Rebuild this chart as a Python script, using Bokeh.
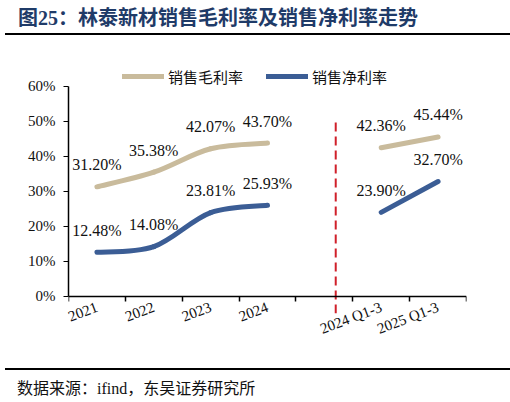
from bokeh.plotting import figure
from bokeh.embed import file_html
from bokeh.resources import INLINE
from bokeh.layouts import column
from bokeh.models import (
    ColumnDataSource, Range1d, FixedTicker, PrintfTickFormatter, LinearAxis,
    Legend, LegendItem, Div,
)

# data
categories = ["2021", "2022", "2023", "2024", "", "2024 Q1-3", "2025 Q1-3"]
gross_year = [31.20, 35.38, 42.07, 43.70]
net_year = [12.48, 14.08, 23.81, 25.93]
gross_q = [42.36, 45.44]
net_q = [23.90, 32.70]
yticks = [0, 10, 20, 30, 40, 50, 60]

GOLD = "#C9BB9C"
BLUE = "#3B5D95"
SERIF = "Liberation Serif"
CJK = "Noto Sans CJK SC"
MIXED = "'Liberation Serif', 'Noto Sans CJK SC'"

x_year = [i + 0.5 for i in range(len(gross_year))]
x_q = [5.5, 6.5]


def bezier_source(xs, ys):
    # excel-like smoothed line: catmull-rom control points
    n = len(xs)
    d = dict(x0=[], y0=[], x1=[], y1=[], cx0=[], cy0=[], cx1=[], cy1=[])
    for i in range(n - 1):
        a = max(i - 1, 0)
        b = min(i + 2, n - 1)
        d["x0"].append(xs[i]); d["y0"].append(ys[i])
        d["x1"].append(xs[i + 1]); d["y1"].append(ys[i + 1])
        d["cx0"].append(xs[i] + (xs[i + 1] - xs[a]) / 6)
        d["cy0"].append(ys[i] + (ys[i + 1] - ys[a]) / 6)
        d["cx1"].append(xs[i + 1] - (xs[b] - xs[i]) / 6)
        d["cy1"].append(ys[i + 1] - (ys[b] - ys[i]) / 6)
    return ColumnDataSource(d)


# 3.5 px per percent point, frame from -5% up to room for the legend
p = figure(
    frame_width=398, frame_height=256,
    min_border_left=68, min_border_right=36, min_border_top=21, min_border_bottom=47,
    x_range=Range1d(0, 7), y_range=Range1d(-5, -5 + 256 / 3.5),
    output_backend="svg", toolbar_location=None, tools="",
)
p.outline_line_color = None
p.grid.visible = False

# y axis
p.yaxis.ticker = FixedTicker(ticks=yticks)
p.yaxis.formatter = PrintfTickFormatter(format="%d%%")
p.yaxis.bounds = (0, 60)
p.yaxis.major_tick_out = 5
p.yaxis.major_tick_in = 0
p.yaxis.minor_tick_line_color = None
p.yaxis.major_label_standoff = 8
p.yaxis.major_label_text_font = SERIF
p.yaxis.major_label_text_font_size = "15px"
p.yaxis.major_label_text_color = "#111111"
p.yaxis.axis_line_width = 1.5

# x labels (bottom panel, pulled up towards the 0% line)
centers = [i + 0.5 for i, c in enumerate(categories) if c]
p.xaxis.ticker = FixedTicker(ticks=centers)
p.xaxis.major_label_overrides = {i + 0.5: c for i, c in enumerate(categories) if c}
p.xaxis.axis_line_color = None
p.xaxis.major_tick_line_color = None
p.xaxis.minor_tick_line_color = None
p.xaxis.major_tick_out = 0
p.xaxis.minor_tick_out = 0
p.xaxis.major_label_orientation = 0.36
p.xaxis.major_label_standoff = -7
p.xaxis.major_label_text_font = SERIF
p.xaxis.major_label_text_font_size = "15px"
p.xaxis.major_label_text_color = "#111111"

# x axis line at 0% with ticks between categories
base = LinearAxis(fixed_location=0,
                  ticker=FixedTicker(ticks=[], minor_ticks=list(range(len(categories) + 1))),
                  axis_line_width=1.5, major_tick_line_color=None,
                  minor_tick_in=5, minor_tick_out=0, minor_tick_line_width=1.5,
                  major_label_text_font_size="0px")
p.add_layout(base, "above")

# divider
p.segment(x0=[4.7], y0=[-5], x1=[4.7], y1=[51], line_color="#D0202A",
          line_width=2, line_dash="9 5")

# lines
p.bezier(source=bezier_source(x_year, gross_year), x0="x0", y0="y0", x1="x1", y1="y1",
         cx0="cx0", cy0="cy0", cx1="cx1", cy1="cy1",
         line_color=GOLD, line_width=5, line_cap="round")
p.bezier(source=bezier_source(x_year, net_year), x0="x0", y0="y0", x1="x1", y1="y1",
         cx0="cx0", cy0="cy0", cx1="cx1", cy1="cy1",
         line_color=BLUE, line_width=5, line_cap="round")
g_q = p.line(x_q, gross_q, line_color=GOLD, line_width=5, line_cap="round")
n_q = p.line(x_q, net_q, line_color=BLUE, line_width=5, line_cap="round")

# value labels
for xs, ys in [(x_year, gross_year), (x_year, net_year), (x_q, gross_q), (x_q, net_q)]:
    p.text(xs, ys, text=[f"{v:.2f}%" for v in ys], y_offset=-22,
           text_align="center", text_baseline="middle",
           text_font={"value": SERIF}, text_font_size="16px", text_color="#111111")

legend = Legend(
    items=[LegendItem(label="销售毛利率", renderers=[g_q]),
           LegendItem(label="销售净利率", renderers=[n_q])],
    orientation="horizontal", location=(54, 226),
    padding=0, margin=0, spacing=23, glyph_width=42, glyph_height=22,
    label_height=22, label_standoff=4, border_line_color=None,
    background_fill_alpha=0, label_text_font=CJK, label_text_font_size="15px",
    label_text_color="#111111",
)
p.add_layout(legend, "center")

title = Div(
    text=("<div style=\"margin-left:5px;width:499px;height:25px;padding:8px 0 0 13px;"
          "box-sizing:content-box;border-bottom:2px solid #000;"
          f"font-family:{MIXED};font-weight:bold;font-size:20px;line-height:20px;"
          "color:#1F3B68;white-space:nowrap;\">图25：林泰新材销售毛利率及销售净利率走势</div>"),
    width=510, height=36, margin=0,
)
source = Div(
    text=("<div style=\"margin:8px 0 0 5px;width:499px;padding:11px 0 0 12px;"
          "border-top:2px solid #000;box-sizing:content-box;"
          f"font-family:{MIXED};font-size:16px;line-height:16px;color:#111;"
          "white-space:nowrap;\">数据来源：ifind，东吴证券研究所</div>"),
    width=510, height=40, margin=0,
)

open("out.html", "w").write(file_html(column(title, p, source, spacing=0), INLINE))
